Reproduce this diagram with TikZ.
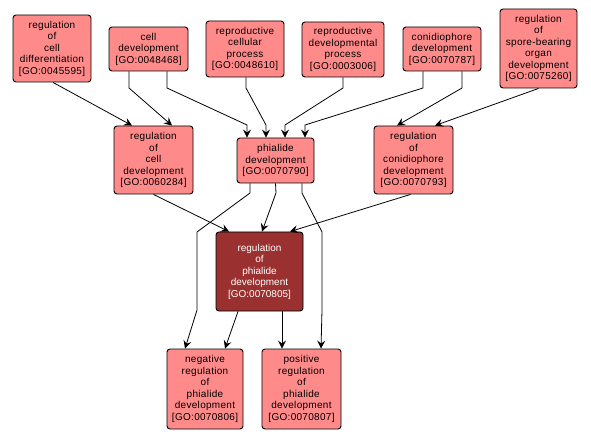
\documentclass[tikz,border=0pt]{standalone}
\usepackage{fontspec}
\setmainfont{Liberation Sans}[LetterSpace=3]
\usetikzlibrary{arrows.meta}
\definecolor{lightnode}{HTML}{FF8A8A}
\definecolor{darknode}{HTML}{9A3030}
\tikzset{
  gobox/.style={draw=black, line width=0.9pt, rounded corners=3pt, fill=lightnode,
    align=center, inner sep=0pt, font=\fontsize{10}{11.5}\selectfont, text=black},
  gofocus/.style={gobox, fill=darknode, text=white, font=\fontsize{10}{11.5}\selectfont\addfontfeature{LetterSpace=0}},
  edge/.style={draw=black, line width=0.8pt, -{Stealth[length=8pt,width=8pt,inset=3pt]}}
}
\begin{document}
\begin{tikzpicture}[x=1pt,y=-1pt]
\useasboundingbox (0,0) rectangle (591,438);
\fill[white] (0,0) rectangle (591,438);
% top row
\node[gobox, minimum width=78pt, minimum height=67pt] (regdiff) at (52,48.5) {regulation\\of\\cell\\differentiation\\{[GO:0045595]}};
\node[gobox, minimum width=79pt, minimum height=44pt] (celldev) at (148.5,49) {cell\\development\\{[GO:0048468]}};
\node[gobox, minimum width=78pt, minimum height=56pt] (repcell) at (245,49) {reproductive\\cellular\\process\\{[GO:0048610]}};
\node[gobox, minimum width=82pt, minimum height=55pt] (repdev) at (343,49.5) {reproductive\\developmental\\process\\{[GO:0003006]}};
\node[gobox, minimum width=78pt, minimum height=44pt] (conid) at (442,49) {conidiophore\\development\\{[GO:0070787]}};
\node[gobox, minimum width=77pt, minimum height=79pt] (spore) at (538.5,48.5) {regulation\\of\\spore-bearing\\organ\\development\\{[GO:0075260]}};
% middle row
\node[gobox, minimum width=79pt, minimum height=68pt] (regcell) at (153.5,160) {regulation\\of\\cell\\development\\{[GO:0060284]}};
\node[gobox, minimum width=77pt, minimum height=45pt] (phial) at (275.5,160.5) {phialide\\development\\{[GO:0070790]}};
\node[gobox, minimum width=79pt, minimum height=68pt] (regconid) at (413.5,160) {regulation\\of\\conidiophore\\development\\{[GO:0070793]}};
% focus
\node[gofocus, minimum width=87pt, minimum height=79pt] (regphial) at (259.5,271.5) {regulation\\of\\phialide\\development\\{[GO:0070805]}};
% bottom
\node[gobox, minimum width=76pt, minimum height=80pt] (neg) at (205,389) {negative\\regulation\\of\\phialide\\development\\{[GO:0070806]}};
\node[gobox, minimum width=79pt, minimum height=80pt] (pos) at (301.5,389) {positive\\regulation\\of\\phialide\\development\\{[GO:0070807]}};
% edges
\draw[edge] ([xshift=1pt]regdiff.south) -- ([xshift=-21.5pt]regcell.north);
\draw[edge] ([xshift=-19.5pt]celldev.south) -- (129,88) -- ([xshift=18.5pt]regcell.north);
\draw[edge] ([xshift=18.5pt]celldev.south) -- (167,88) -- (247,125) -- ([xshift=-28.5pt]phial.north);
\draw[edge] ([xshift=1pt]repcell.south) -- (246,88) -- (266,125) -- ([xshift=-9.5pt]phial.north);
\draw[edge] (repdev.south) -- (343,88) -- (285,125) -- ([xshift=9.5pt]phial.north);
\draw[edge] ([xshift=-19pt]conid.south) -- (423,88) -- (305,125) -- ([xshift=29.5pt]phial.north);
\draw[edge] ([xshift=20pt]conid.south) -- (462,88) -- ([xshift=-16.5pt]regconid.north);
\draw[edge] (spore.south) -- ([xshift=21.5pt]regconid.north);
\draw[edge] (regcell.south) -- ([xshift=-30.5pt]regphial.north);
\draw[edge] ([xshift=-3pt]regconid.south) -- ([xshift=30.5pt]regphial.north);
\draw[edge] (phial.south) -- (276,193) -- ([xshift=2.5pt]regphial.north);
\draw[edge] ([xshift=-25.5pt]phial.south) -- (250,193) -- (197,232) -- (197,310) -- ([xshift=-20pt]neg.north);
\draw[edge] ([xshift=26.5pt]phial.south) -- (302,193) -- (322,232) -- (322,310) -- ([xshift=19.5pt]pos.north);
\draw[edge] ([xshift=-21.5pt]regphial.south) -- ([xshift=20pt]neg.north);
\draw[edge] ([xshift=22.5pt]regphial.south) -- ([xshift=-19.5pt]pos.north);
\end{tikzpicture}
\end{document}
